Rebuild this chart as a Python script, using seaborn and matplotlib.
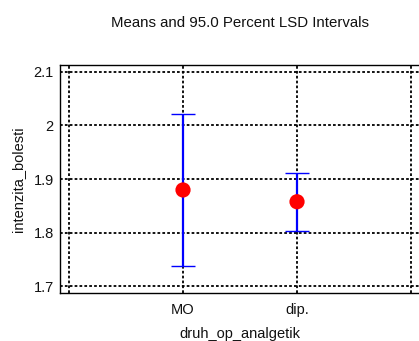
import matplotlib
matplotlib.use("Agg")
import matplotlib.pyplot as plt
import seaborn as sns
import pandas as pd

categories = ["MO", "dip."]
means = [1.8795, 1.8575]
lower = [1.738, 1.8037]
upper = [2.021, 1.911]
yticks = [1.7, 1.8, 1.9, 2.0, 2.1]
ytick_labels = ["1.7", "1.8", "1.9", "2", "2.1"]

sns.set_style("white")
plt.rcParams["font.family"] = ["Liberation Sans", "DejaVu Sans"]

df = pd.DataFrame({"druh_op_analgetik": categories, "intenzita_bolesti": means})
df["pos"] = range(len(categories))

fig = plt.figure(figsize=(4.19, 3.41), dpi=100)
ax = fig.add_axes([60/419, 1-293/341, 359/419, (293-65)/341])

# interval bars
err_lo = [m - l for m, l in zip(means, lower)]
err_hi = [u - m for m, u in zip(means, upper)]
line, caps, bars = ax.errorbar(df["pos"], df["intenzita_bolesti"], yerr=[err_lo, err_hi],
                               fmt="none", ecolor="#0000ff", elinewidth=1.6,
                               capsize=8.3, capthick=1.0, zorder=3)
for c in caps:
    c.set_color("#8888ff")

sns.scatterplot(data=df, x="pos", y="intenzita_bolesti", ax=ax, color="#ff0000",
                s=120, edgecolor="none", zorder=4, legend=False)

ax.set_xlim(-1.079, 2.07)
ax.set_ylim(1.687, 2.113)
ax.set_xticks([-1, 0, 1, 2])
ax.set_xticklabels([""] + categories + [""])
ax.set_yticks(yticks)
ax.set_yticklabels(ytick_labels)
ax.grid(True, color="black", linestyle=(0, (1.5, 1.2)), linewidth=1.3)
ax.set_axisbelow(True)
for side in ["left", "bottom", "top"]:
    ax.spines[side].set_visible(True)
    ax.spines[side].set_color("black")
    ax.spines[side].set_linewidth(1.0)
ax.spines["right"].set_visible(False)
ax.tick_params(axis="both", length=3, direction="inout", labelsize=10.5, colors="#111111")
ax.tick_params(axis="x", pad=6)
ax.tick_params(axis="y", pad=3)

ax.set_xlabel("druh_op_analgetik", fontsize=10.5, labelpad=7, color="#111111")
ax.set_ylabel("intenzita_bolesti", fontsize=10.5, labelpad=6, color="#111111")
fig.text(240/419, 1-23/341, "Means and 95.0 Percent LSD Intervals", ha="center", va="center",
         fontsize=10.8, color="#111111")

fig.savefig("out.png", dpi=100)
